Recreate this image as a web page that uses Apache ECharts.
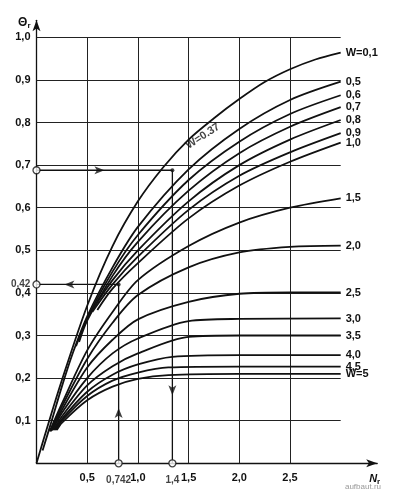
<!DOCTYPE html>
<html><head><meta charset="utf-8">
<script src="https://cdn.jsdelivr.net/npm/echarts@6/dist/echarts.min.js"></script>
<style>html,body{margin:0;padding:0;background:#fff}#c{width:399px;height:496px}</style>
</head><body><div id="c"></div>
<script>
// ---- data (N_r, Theta_r) ----
const curveLabels = ['W=0,1','0,5','0,6','0,7','0,8','0,9','1,0','1,5','2,0','2,5','3,0','3,5','4,0','4,5','W=5'];
const curveW01 = [[0,0],[0.1,0.08],[0.25,0.195],[0.5,0.37],[0.75,0.51],[1.0,0.615],[1.25,0.695],[1.5,0.76],[1.75,0.81],[2.0,0.855],[2.25,0.895],[2.5,0.925],[2.75,0.948],[3.0,0.964]];
const curveW05 = [[0.06,0.03],[0.15,0.1],[0.25,0.18],[0.36,0.26],[0.5,0.345],[0.75,0.46],[1.0,0.555],[1.5,0.69],[2.0,0.785],[2.5,0.853],[3.0,0.896]];
const curveW06 = [[0.39,0.275],[0.5,0.34],[0.75,0.45],[1.0,0.536],[1.5,0.665],[2.0,0.755],[2.5,0.82],[3.0,0.864]];
const curveW07 = [[0.42,0.285],[0.5,0.335],[0.75,0.44],[1.0,0.52],[1.5,0.64],[2.0,0.728],[2.5,0.79],[3.0,0.836]];
const curveW08 = [[0.51,0.345],[0.75,0.43],[1.0,0.5],[1.5,0.615],[2.0,0.7],[2.5,0.76],[3.0,0.806]];
const curveW09 = [[0.55,0.355],[0.75,0.42],[1.0,0.485],[1.5,0.595],[2.0,0.675],[2.5,0.73],[3.0,0.775]];
const curveW10 = [[0.6,0.36],[0.75,0.41],[1.0,0.47],[1.5,0.575],[2.0,0.652],[2.5,0.708],[3.0,0.753]];
const curveW15 = [[0.13,0.075],[0.25,0.14],[0.5,0.265],[0.75,0.355],[1.0,0.43],[1.5,0.51],[2.0,0.565],[2.5,0.6],[3.0,0.622]];
const curveW20 = [[0.14,0.075],[0.25,0.133],[0.5,0.245],[0.75,0.33],[1.0,0.395],[1.5,0.46],[2.0,0.495],[2.5,0.508],[3.0,0.511]];
const curveW25 = [[0.15,0.077],[0.25,0.125],[0.5,0.225],[0.75,0.29],[1.0,0.338],[1.5,0.379],[2.0,0.398],[2.5,0.401],[3.0,0.401]];
const curveW30 = [[0.16,0.078],[0.25,0.118],[0.5,0.2],[0.75,0.258],[1.0,0.293],[1.5,0.334],[2.0,0.339],[3.0,0.34]];
const curveW35 = [[0.17,0.078],[0.25,0.11],[0.5,0.183],[0.75,0.228],[1.0,0.258],[1.5,0.297],[2.0,0.3],[3.0,0.3]];
const curveW40 = [[0.18,0.078],[0.25,0.104],[0.5,0.168],[0.75,0.208],[1.0,0.232],[1.34,0.25],[2.0,0.254],[3.0,0.254]];
const curveW45 = [[0.19,0.078],[0.25,0.1],[0.5,0.158],[0.75,0.194],[1.0,0.213],[1.3,0.225],[2.0,0.227],[3.0,0.227]];
const curveW50 = [[0.2,0.078],[0.25,0.095],[0.5,0.148],[0.75,0.18],[1.0,0.198],[1.3,0.207],[2.0,0.21],[3.0,0.21]];
const curves = [curveW01,curveW05,curveW06,curveW07,curveW08,curveW09,curveW10,curveW15,curveW20,curveW25,curveW30,curveW35,curveW40,curveW45,curveW50];

const yGridValues = [0.1,0.2,0.3,0.4,0.5,0.6,0.7,0.8,0.9,1.0];
const xGridValues = [0.5,1.0,1.5,2.0,2.5];
const gridXEnd = 3.0;
const gridYEnd = 1.0;
const xTickLabels = ['0,5','1,0','1,5','2,0','2,5'];
const yTickLabels = ['0,1','0,2','0,3','0,4','0,5','0,6','0,7','0,8','0,9','1,0'];

// worked example
const exampleYPoints = [0.688, 0.42];
const exampleYLabels = ['', '0,42'];
const exampleXPoints = [0.81, 1.34];
const exampleXLabels = ['0,742', '1,4'];
const labelW037 = 'W=0.37';
const labelW037Pos = [1.64, 0.768];

const FONT = '"Liberation Sans", Arial, sans-serif';
const ink = '#111';

const series = [];
// grid lines
series.push({
  type:'line', data:[], silent:true, z:1,
  markLine:{
    silent:true, symbol:['none','none'], animation:false,
    label:{show:false},
    lineStyle:{color:'#222', width:1, type:'solid'},
    data: yGridValues.map(v=>[{coord:[0,v]},{coord:[gridXEnd,v]}])
      .concat(xGridValues.map(v=>[{coord:[v,0]},{coord:[v,gridYEnd]}]))
  }
});
// curves
curves.forEach((c,i)=>{
  series.push({
    type:'line', data:c, smooth:0.3, symbol:'none', z:5,
    lineStyle:{color:ink, width:1.8},
    endLabel:{show:true, formatter:curveLabels[i], distance:5,
      fontFamily:FONT, fontSize:11, fontWeight:'bold', color:ink}
  });
});
// example guide lines
const exY1 = exampleYPoints[0], exY2 = exampleYPoints[1];
const exX1 = exampleXPoints[0], exX2 = exampleXPoints[1];
const guide = (d)=>({type:'line', data:d, symbol:'none', z:4, lineStyle:{color:ink,width:1.3}});
series.push(guide([[0,exY1],[exX2,exY1]]));
series.push(guide([[exX2,0],[exX2,exY1]]));
series.push(guide([[exX1,0],[exX1,exY2]]));
series.push(guide([[0,exY2],[exX1,exY2]]));
// arrowheads on guide lines
series.push({type:'scatter', z:6, symbol:'arrow', symbolSize:[6,10], itemStyle:{color:ink},
  data:[
    {value:[exX2*0.5,exY1], symbolRotate:-90},
    {value:[exX2,0.16], symbolRotate:180},
    {value:[exX1,0.13], symbolRotate:0},
    {value:[exX1*0.34,exY2], symbolRotate:90}
  ]});
// dots
series.push({type:'scatter', z:7, symbol:'circle', symbolSize:4, itemStyle:{color:ink},
  data:[[exX2,exY1],[exX1,exY2]]});
// open circles
series.push({type:'scatter', z:8, symbol:'circle', symbolSize:7,
  itemStyle:{color:'#fff', borderColor:ink, borderWidth:1.3},
  data:[
    {value:[0,exampleYPoints[0]]},
    {value:[0,exampleYPoints[1]], label:{show:true, position:'left', distance:2, formatter:exampleYLabels[1], fontFamily:FONT, fontSize:10, fontWeight:'bold', color:ink}},
    {value:[exampleXPoints[0],0], label:{show:true, position:'bottom', distance:8, formatter:exampleXLabels[0], fontFamily:FONT, fontSize:10, fontWeight:'bold', color:ink}},
    {value:[exampleXPoints[1],0], label:{show:true, position:'bottom', distance:8, formatter:exampleXLabels[1], fontFamily:FONT, fontSize:10, fontWeight:'bold', color:ink}}
  ]});
// W=0.37 label
series.push({type:'scatter', z:9, symbolSize:0, data:[labelW037Pos],
  label:{show:true, position:'inside', formatter:labelW037, rotate:33,
    fontFamily:FONT, fontSize:11, fontWeight:'bold', color:ink}});

const chart = echarts.init(document.getElementById('c'));
chart.setOption({
  animation:false,
  backgroundColor:'#fff',
  grid:{left:36.5, top:20.3, width:340.7, height:443, containLabel:false},
  xAxis:{type:'value', min:0, max:3.36, interval:0.5,
    axisLine:{lineStyle:{color:ink,width:1.3}, symbol:['none','arrow'], symbolSize:[6,11]},
    axisTick:{show:false}, splitLine:{show:false},
    axisLabel:{margin:9, fontFamily:FONT, fontSize:11, fontWeight:'bold', color:ink,
      formatter:v=>{const i=xGridValues.findIndex(g=>Math.abs(g-v)<1e-6); return i>=0?xTickLabels[i]:'';}},
    name:'{a|N}{b|r}', nameLocation:'end', nameGap:3,
    nameTextStyle:{align:'right', verticalAlign:'top', padding:[9,0,0,0],
      rich:{a:{fontFamily:FONT,fontSize:11,fontWeight:'bold',fontStyle:'italic',color:ink},
            b:{fontFamily:FONT,fontSize:8,fontWeight:'bold',color:ink,verticalAlign:'bottom',padding:[5,0,0,0]}}}
  },
  yAxis:{type:'value', min:0, max:1.04, interval:0.1,
    axisLine:{lineStyle:{color:ink,width:1.3}, symbol:['none','arrow'], symbolSize:[6,11]},
    axisTick:{show:false}, splitLine:{show:false},
    axisLabel:{margin:6, fontFamily:FONT, fontSize:11, fontWeight:'bold', color:ink,
      formatter:v=>{const i=yGridValues.findIndex(g=>Math.abs(g-v)<1e-6); return i>=0?yTickLabels[i]:'';}},
    name:'{a|Θ}{b|r}', nameLocation:'end', nameGap:-2,
    nameTextStyle:{align:'right', verticalAlign:'middle', padding:[0,6,0,0],
      rich:{a:{fontFamily:FONT,fontSize:12,fontWeight:'bold',color:ink},
            b:{fontFamily:FONT,fontSize:8,fontWeight:'bold',color:ink,padding:[6,0,0,0]}}}
  },
  graphic:[{type:'text', right:18, bottom:5, style:{text:'aufbaut.ru', fontFamily:FONT, fontSize:8, fill:'#999'}}],
  series:series
});
</script></body></html>
